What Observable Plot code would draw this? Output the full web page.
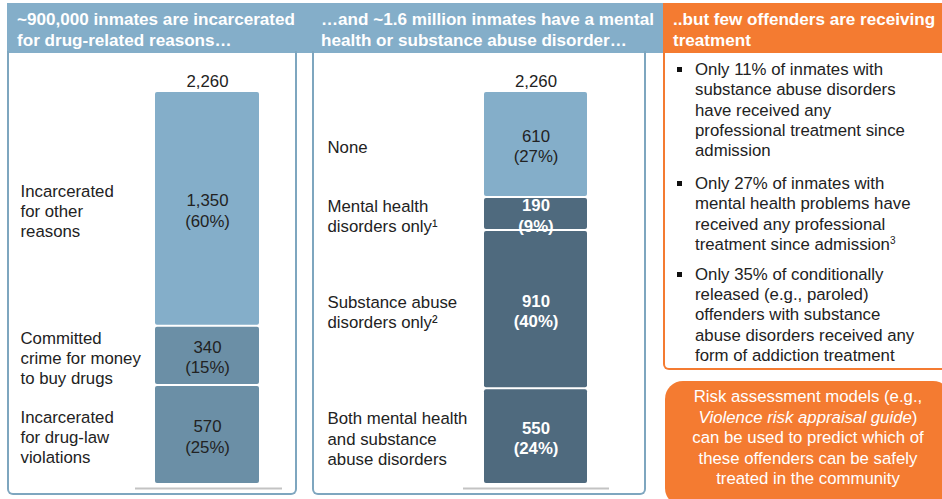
<!DOCTYPE html>
<html>
<head>
<meta charset="utf-8">
<script src="https://cdn.jsdelivr.net/npm/d3@7"></script>
<script src="https://cdn.jsdelivr.net/npm/@observablehq/plot@0.6"></script>
<style>
  html, body { margin: 0; padding: 0; background: #fff; }
  body { width: 942px; height: 499px; overflow: hidden; position: relative;
         font-family: "Liberation Sans", Arial, sans-serif; color: #222; }
  .abs { position: absolute; }
  .band { left: 7px; top: 3px; width: 656px; height: 50px; background: #84aec9; }
  .hdr { color: #fff; font-weight: bold; font-size: 17.1px; line-height: 21px; white-space: nowrap; top: 9px; }
  .panel { top: 51px; height: 444px; border: 2px solid #7ea6bf; border-top: none; border-radius: 0 0 6px 6px; box-sizing: border-box; }
  .ohdr { left: 663px; top: 3px; width: 290px; height: 50px; background: #f47b31; }
  .obox { left: 663px; top: 51px; width: 295px; height: 319px; border: 2px solid #f47b31; border-top: none; border-radius: 0 0 6px 6px; box-sizing: border-box; }
  .bullets { left: 695px; top: 60px; font-size: 16.8px; line-height: 20.3px; white-space: nowrap; color: #222; }
  .bullets p { margin: 0 0 12.6px 0; position: relative; }
  .bullets p.tight { margin-bottom: 9.6px; }
  .bullets p::before { content: ""; position: absolute; left: -18px; top: 7px; width: 5px; height: 5px; background: #111; }
  .bullets sup { font-size: 10px; line-height: 0; vertical-align: 6px; }
  .pill { left: 665px; top: 381px; width: 286px; height: 125px; background: #f47b31; border-radius: 18px; color: #fff;
          font-size: 16.8px; line-height: 20.5px; text-align: center; white-space: nowrap; box-sizing: border-box; padding-top: 6px; }
  svg { position: absolute; }
</style>
</head>
<body>
<div class="abs band"></div>
<div class="abs hdr" style="left:17px">~900,000 inmates are incarcerated<br>for drug-related reasons…</div>
<div class="abs hdr" style="left:321px">…and ~1.6 million inmates have a mental<br>health or substance abuse disorder…</div>
<div class="abs panel" style="left:7px; width:290px"></div>
<div class="abs panel" style="left:312px; width:334px"></div>
<div class="abs ohdr"></div>
<div class="abs hdr" style="left:673px">..but few offenders are receiving<br>treatment</div>
<div class="abs obox"></div>
<div class="abs bullets">
  <p>Only 11% of inmates with<br>substance abuse disorders<br>have received any<br>professional treatment since<br>admission</p>
  <p class="tight">Only 27% of inmates with<br>mental health problems have<br>received any professional<br>treatment since admission<sup>3</sup></p>
  <p>Only 35% of conditionally<br>released (e.g., paroled)<br>offenders with substance<br>abuse disorders received any<br>form of addiction treatment</p>
</div>
<div class="abs pill">Risk assessment models (e.g.,<br><i>Violence risk appraisal guide</i>)<br>can be used to predict which of<br>these offenders can be safely<br>treated in the community</div>

<script>
// ---- Data ----
const total = 2260;

const drugLabels = ["Incarcerated\nfor drug-law\nviolations", "Committed\ncrime for money\nto buy drugs", "Incarcerated\nfor other\nreasons"];
const drugValues = [570, 340, 1350];
const drugShares = [25, 15, 60];

const disorderLabels = ["Both mental health\nand substance\nabuse disorders", "Substance abuse\ndisorders only²", "Mental health\ndisorders only¹", "None"];
const disorderValues = [550, 910, 190, 610];
const disorderShares = [24, 40, 9, 27];

// ---- Styles ----
const drugColors = ["#6b8fa6", "#6b8fa6", "#84aec9"];
const drugWhiteText = [false, false, false];
const disorderColors = ["#4f6a7e", "#4f6a7e", "#4f6a7e", "#84aec9"];
const disorderWhiteText = [true, true, true, false];

const fmt = d3.format(",");
const FONT = "'Liberation Sans', Arial, sans-serif";
const FS = 16.8;
const LH = 1.21;

function rowsOf(labels, values, shares, colors, white) {
  let acc = 0;
  return labels.map((label, i) => {
    const y0 = acc; acc += values[i];
    return {label, value: values[i], share: shares[i], y0, y1: acc, mid: (y0 + acc) / 2, color: colors[i], white: white[i]};
  });
}

function stackChart(rows, {left, width, barRange, labelDx, ruleInsetLeft, ruleInsetRight}) {
  const svg = Plot.plot({
    width, height: 440, margin: 0,
    x: {type: "band", domain: ["bar"], range: barRange, padding: 0, axis: null},
    y: {domain: [0, total], range: [431, 38], axis: null},
    color: {type: "identity"},
    style: {background: "transparent", fontFamily: FONT, fontSize: FS + "px", overflow: "visible"},
    marks: [
      Plot.barY(rows, {x: () => "bar", y1: "y0", y2: "y1", fill: "color", insetTop: 1, insetBottom: 1, rx: 2}),
      Plot.ruleY([0], {dy: 4, insetLeft: ruleInsetLeft, insetRight: ruleInsetRight, stroke: "#c3c3c3", strokeWidth: 2}),
      Plot.text(rows, {filter: d => !d.white, x: () => "bar", y: "mid", dy: 1, text: d => `${fmt(d.value)}\n(${d.share}%)`, fill: "#222", fontSize: FS, lineHeight: LH}),
      Plot.text(rows, {filter: d => d.white, x: () => "bar", y: "mid", dy: 1, text: d => `${fmt(d.value)}\n(${d.share}%)`, fill: "#fff", fontWeight: "bold", fontSize: FS, lineHeight: LH}),
      Plot.text(rows, {y: "mid", dy: 1.5, text: "label", frameAnchor: "left", textAnchor: "start", dx: labelDx, fill: "#222", fontSize: FS, lineHeight: LH}),
      Plot.text([total], {x: () => "bar", y: d => d, text: d => fmt(d), dy: -10, fill: "#222", fontSize: FS})
    ]
  });
  svg.style.left = left + "px";
  svg.style.top = "53px";
  document.body.appendChild(svg);
}

stackChart(rowsOf(drugLabels, drugValues, drugShares, drugColors, drugWhiteText),
  {left: 0, width: 300, barRange: [155, 259], labelDx: 20, ruleInsetLeft: 135, ruleInsetRight: 18});
stackChart(rowsOf(disorderLabels, disorderValues, disorderShares, disorderColors, disorderWhiteText),
  {left: 300, width: 345, barRange: [184, 287], labelDx: 27, ruleInsetLeft: 163, ruleInsetRight: 36});
</script>
</body>
</html>
